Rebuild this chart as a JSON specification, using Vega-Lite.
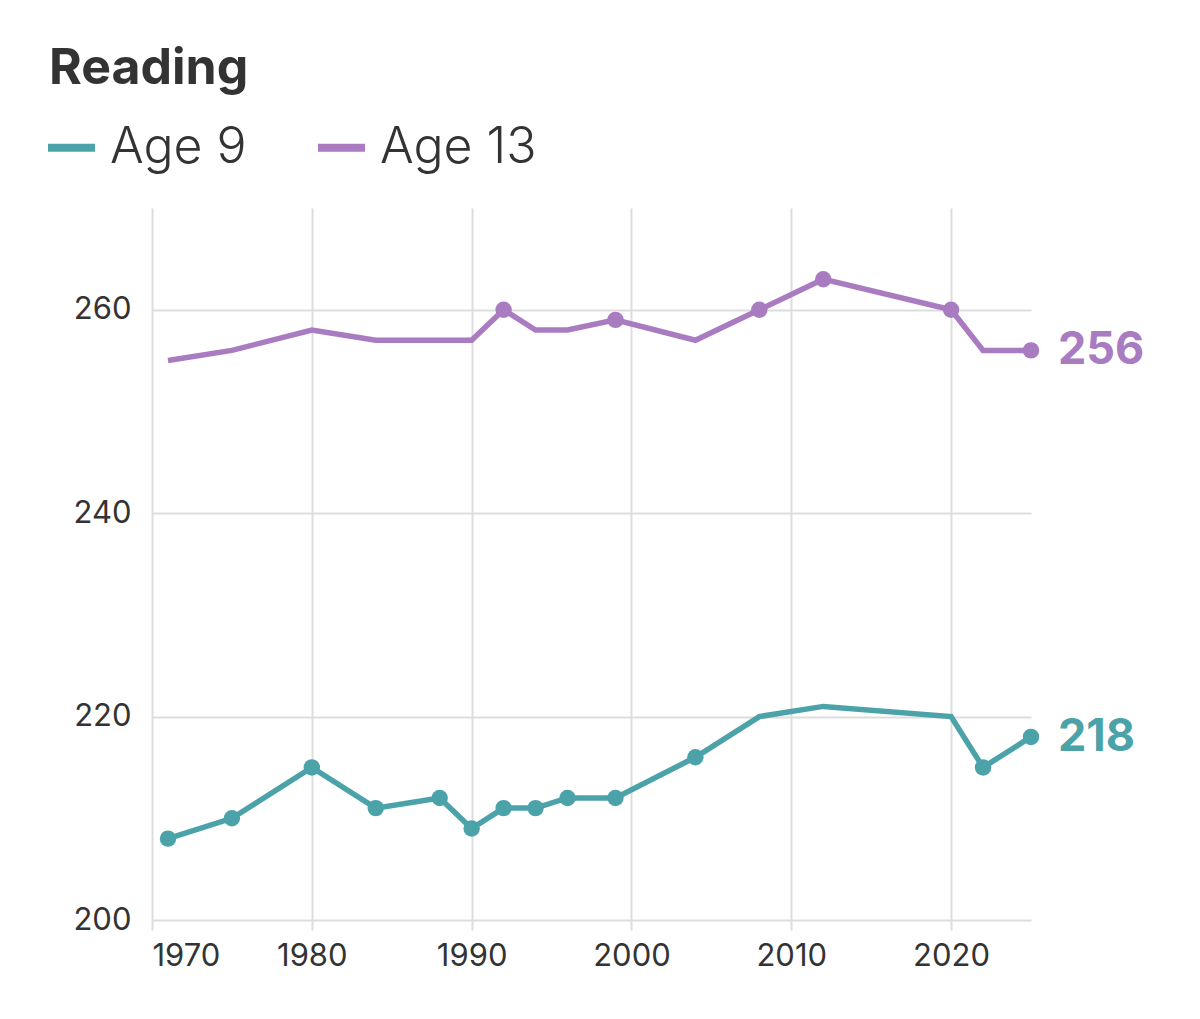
{
  "$schema": "https://vega.github.io/schema/vega-lite/v6.json",
  "autosize": {"type": "none"},
  "width": 879,
  "height": 712,
  "padding": {"left": 152, "top": 208, "right": 169, "bottom": 99},
  "background": "white",
  "title": {
    "text": "Reading",
    "anchor": "start",
    "fontSize": 50,
    "fontWeight": "bold",
    "color": "#333333",
    "font": "Inter",
    "offset": 26,
    "dx": 5
  },
  "config": {
    "font": "Inter",
    "view": {"stroke": null},
    "axis": {
      "domain": false,
      "gridColor": "#dddddd",
      "gridWidth": 2,
      "labelColor": "#333333",
      "labelFont": "Inter",
      "title": null
    }
  },
  "data": {
    "values": [
      {"year": 1971, "age": "Age 9", "score": 208, "marked": true},
      {"year": 1975, "age": "Age 9", "score": 210, "marked": true},
      {"year": 1980, "age": "Age 9", "score": 215, "marked": true},
      {"year": 1984, "age": "Age 9", "score": 211, "marked": true},
      {"year": 1988, "age": "Age 9", "score": 212, "marked": true},
      {"year": 1990, "age": "Age 9", "score": 209, "marked": true},
      {"year": 1992, "age": "Age 9", "score": 211, "marked": true},
      {"year": 1994, "age": "Age 9", "score": 211, "marked": true},
      {"year": 1996, "age": "Age 9", "score": 212, "marked": true},
      {"year": 1999, "age": "Age 9", "score": 212, "marked": true},
      {"year": 2004, "age": "Age 9", "score": 216, "marked": true},
      {"year": 2008, "age": "Age 9", "score": 220, "marked": false},
      {"year": 2012, "age": "Age 9", "score": 221, "marked": false},
      {"year": 2020, "age": "Age 9", "score": 220, "marked": false},
      {"year": 2022, "age": "Age 9", "score": 215, "marked": true},
      {"year": 2025, "age": "Age 9", "score": 218, "marked": true},
      {"year": 1971, "age": "Age 13", "score": 255, "marked": false},
      {"year": 1975, "age": "Age 13", "score": 256, "marked": false},
      {"year": 1980, "age": "Age 13", "score": 258, "marked": false},
      {"year": 1984, "age": "Age 13", "score": 257, "marked": false},
      {"year": 1988, "age": "Age 13", "score": 257, "marked": false},
      {"year": 1990, "age": "Age 13", "score": 257, "marked": false},
      {"year": 1992, "age": "Age 13", "score": 260, "marked": true},
      {"year": 1994, "age": "Age 13", "score": 258, "marked": false},
      {"year": 1996, "age": "Age 13", "score": 258, "marked": false},
      {"year": 1999, "age": "Age 13", "score": 259, "marked": true},
      {"year": 2004, "age": "Age 13", "score": 257, "marked": false},
      {"year": 2008, "age": "Age 13", "score": 260, "marked": true},
      {"year": 2012, "age": "Age 13", "score": 263, "marked": true},
      {"year": 2020, "age": "Age 13", "score": 260, "marked": true},
      {"year": 2022, "age": "Age 13", "score": 256, "marked": false},
      {"year": 2025, "age": "Age 13", "score": 256, "marked": true}
    ]
  },
  "encoding": {
    "x": {
      "field": "year",
      "type": "quantitative",
      "scale": {"domain": [1970, 2025], "nice": false, "zero": false},
      "axis": {
        "values": [1970, 1980, 1990, 2000, 2010, 2020],
        "format": "d",
        "labelFontSize": 31,
        "labelPadding": 11,
        "ticks": true,
        "tickSize": 10,
        "tickColor": "#dddddd",
        "tickWidth": 2,
        "grid": true
      }
    },
    "y": {
      "field": "score",
      "type": "quantitative",
      "scale": {"domain": [200, 270], "nice": false, "zero": false},
      "axis": {
        "values": [200, 220, 240, 260],
        "labelFontSize": 31,
        "labelPadding": 21,
        "ticks": false,
        "grid": true
      }
    },
    "color": {
      "field": "age",
      "type": "nominal",
      "scale": {"domain": ["Age 9", "Age 13"], "range": ["#4ba3a9", "#a97bc1"]}
    }
  },
  "layer": [
    {
      "mark": {"type": "line", "strokeWidth": 5.5},
      "encoding": {
        "color": {
          "field": "age",
          "type": "nominal",
          "scale": {"domain": ["Age 9", "Age 13"], "range": ["#4ba3a9", "#a97bc1"]},
          "legend": {
            "title": null,
            "orient": "none",
            "legendX": -108,
            "legendY": -88,
            "direction": "horizontal",
            "symbolType": "stroke",
            "symbolSize": 2209,
            "symbolStrokeWidth": 8,
            "labelFontSize": 50,
            "labelFontWeight": 300,
            "labelColor": "#333333",
            "labelOffset": 11,
            "columnPadding": 55
          }
        }
      }
    },
    {
      "transform": [{"filter": "datum.marked"}],
      "mark": {"type": "circle", "size": 270, "opacity": 1},
      "encoding": {"color": {"field": "age", "type": "nominal", "legend": null}}
    },
    {
      "transform": [{"filter": "datum.year == 2025"}],
      "mark": {
        "type": "text",
        "align": "left",
        "baseline": "middle",
        "dx": 27,
        "fontSize": 45,
        "fontWeight": "bold"
      },
      "encoding": {
        "text": {"field": "score", "type": "quantitative"},
        "color": {"field": "age", "type": "nominal", "legend": null}
      }
    }
  ]
}
